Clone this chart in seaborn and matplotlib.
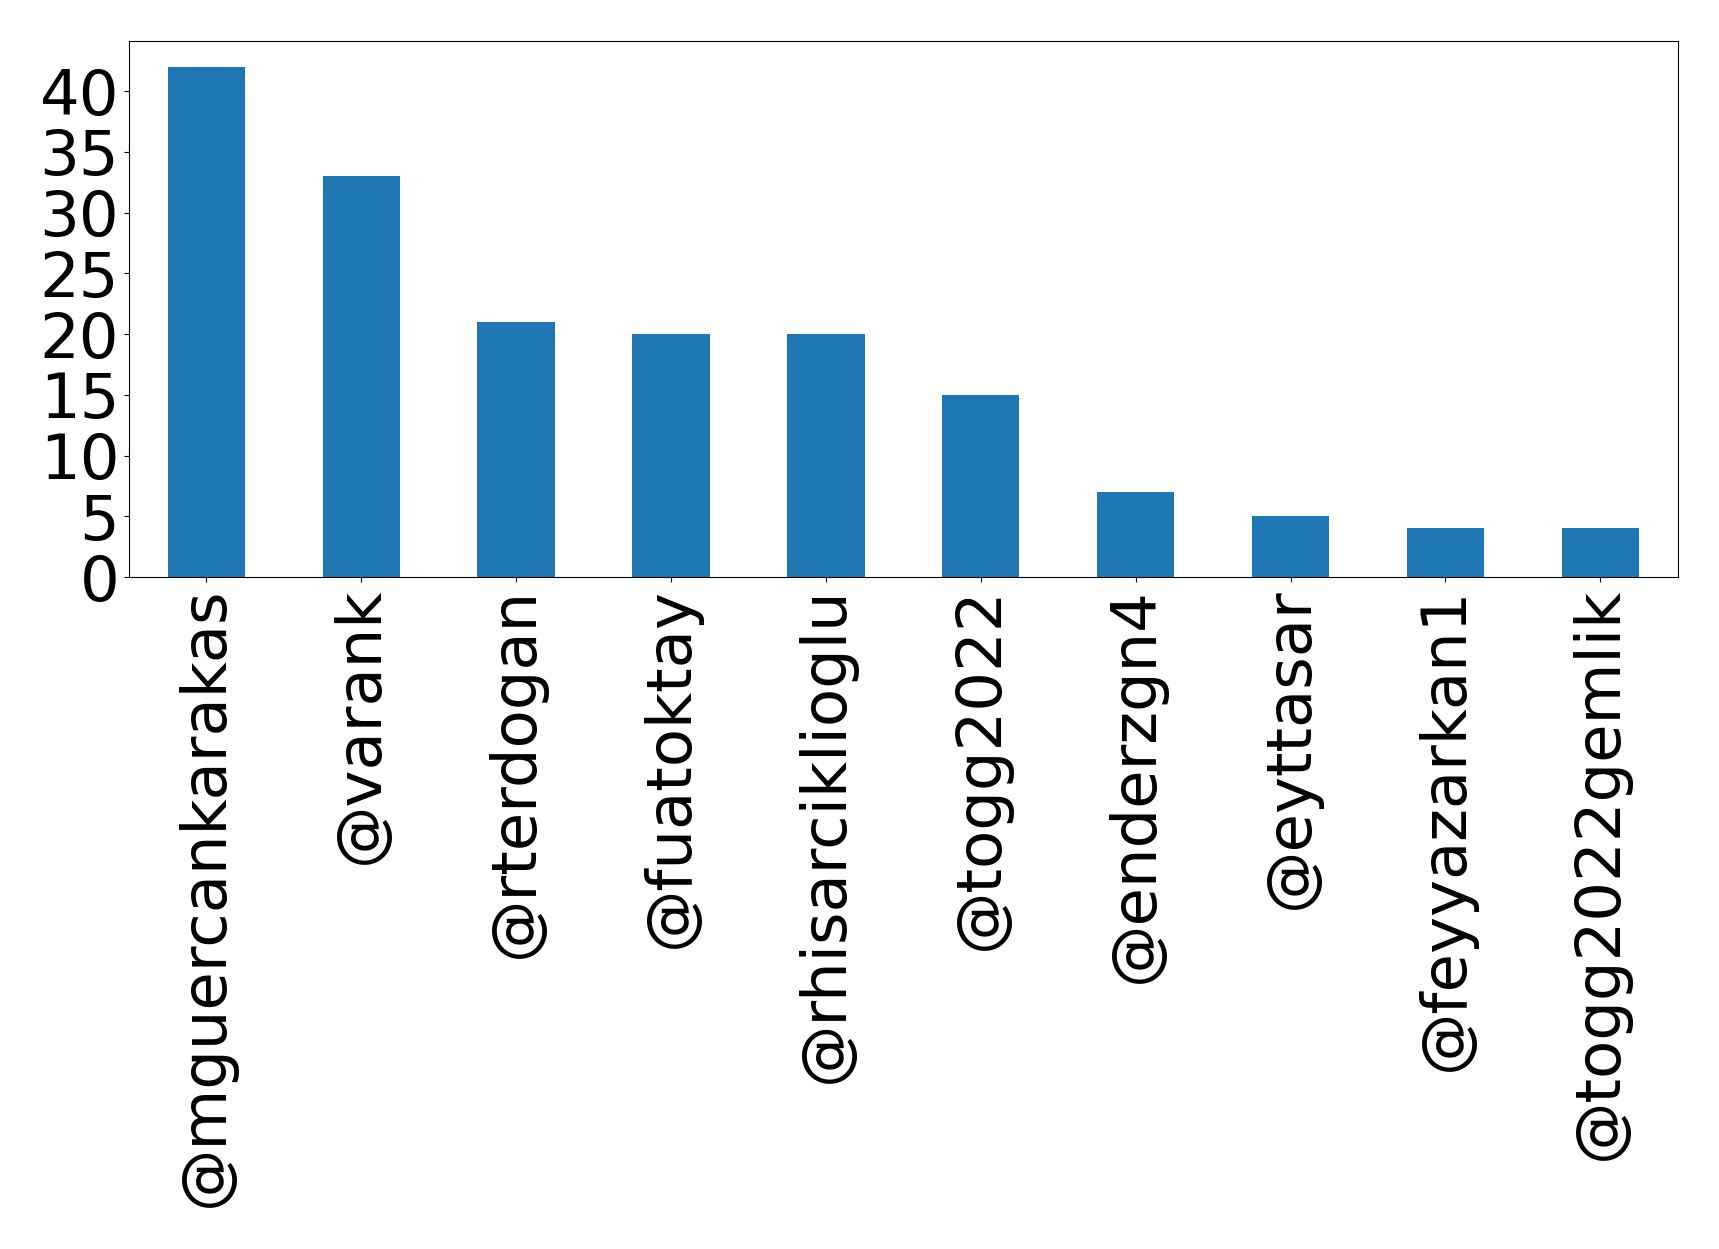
import pandas as pd
import matplotlib
matplotlib.use("Agg")
import matplotlib.pyplot as plt
import seaborn as sns

users = ['@mguercankarakas', '@varank', '@rterdogan', '@fuatoktay', '@rhisarciklioglu',
         '@togg2022', '@enderzgn4', '@eyttasar', '@feyyazarkan1', '@togg2022gemlik']
counts = [42, 33, 21, 20, 20, 15, 7, 5, 4, 4]
yticks = [0, 5, 10, 15, 20, 25, 30, 35, 40]

df = pd.DataFrame({'user': users, 'count': counts})

fig = plt.figure(figsize=(17.19, 12.49), dpi=100)
ax = fig.add_axes([0.075, 0.538, 0.901, 0.429])
sns.barplot(data=df, x='user', y='count', color='#1f77b4', saturation=1, width=0.5, ax=ax)

ax.set_xlim(-0.5, len(users) - 0.5)
ax.set_ylim(0, max(counts) * 1.05)
ax.set_yticks(yticks)
ax.set_xlabel('')
ax.set_ylabel('')
ax.tick_params(axis='both', labelsize=45)
plt.setp(ax.get_xticklabels(), rotation=90)

fig.savefig('out.png', dpi=100)
